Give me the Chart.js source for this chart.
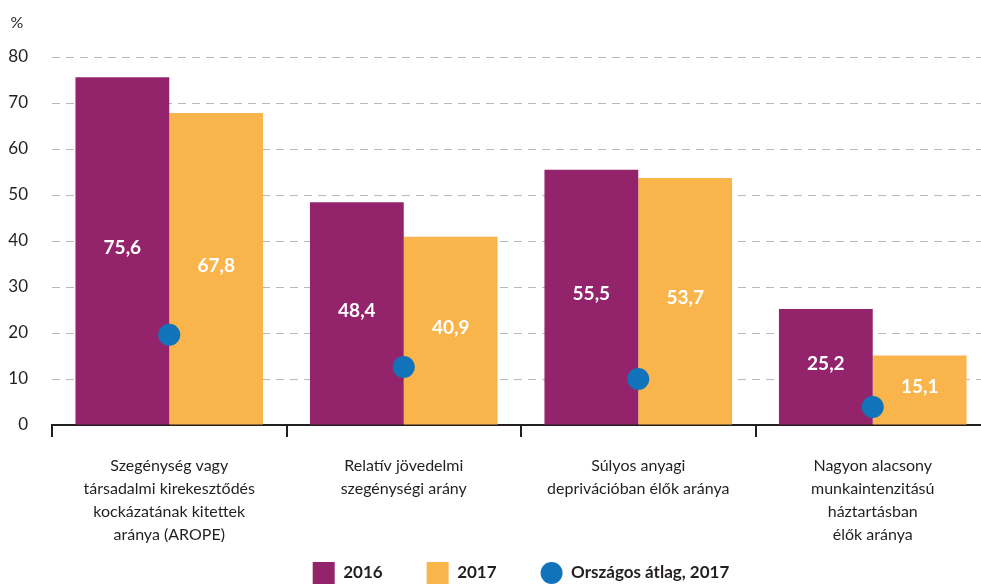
<!DOCTYPE html>
<html lang="hu">
<head>
<meta charset="utf-8">
<title>Szegénységi mutatók</title>
<script src="https://cdn.jsdelivr.net/npm/chart.js@4"></script>
<style>
  html, body { margin: 0; padding: 0; background: #fff; overflow: hidden; }
  /* the plot runs a little past the right edge, as in the original */
  #wrap { width: 981px; height: 588px; overflow: hidden; position: relative; }
  #povertyChart { display: block; position: absolute; left: 0; top: 0; }
</style>
</head>
<body>
<div id="wrap"><canvas id="povertyChart" width="990" height="588"></canvas></div>
<script>
// Chart data
const categories = [
  ['Szegénység vagy', 'társadalmi kirekesztődés', 'kockázatának kitettek', 'aránya (AROPE)'],
  ['Relatív jövedelmi', 'szegénységi arány'],
  ['Súlyos anyagi', 'deprivációban élők aránya'],
  ['Nagyon alacsony', 'munkaintenzitású', 'háztartásban', 'élők aránya']
];
const values2016 = [75.6, 48.4, 55.5, 25.2];
const values2017 = [67.8, 40.9, 53.7, 15.1];
const nationalAvg2017 = [19.6, 12.6, 10.0, 3.9];
const yTicks = [0, 10, 20, 30, 40, 50, 60, 70, 80];

const textColor = '#231f20';
const fmt = v => v.toFixed(1).replace('.', ',');

// white value labels in the middle of each bar
const barLabels = {
  id: 'barLabels',
  afterDatasetsDraw(chart) {
    const ctx = chart.ctx;
    ctx.save();
    ctx.fillStyle = '#fff';
    ctx.font = 'bold 19px Lato';
    ctx.textAlign = 'center';
    ctx.textBaseline = 'middle';
    chart.data.datasets.forEach((ds, i) => {
      if (ds.type === 'line') return;
      chart.getDatasetMeta(i).data.forEach((bar, j) => {
        ctx.fillText(fmt(ds.data[j]), bar.x, (bar.y + bar.base) / 2 - 3);
      });
    });
    ctx.restore();
  }
};

// "%" unit above the y axis
const unitLabel = {
  id: 'unitLabel',
  afterDraw(chart) {
    const ctx = chart.ctx;
    ctx.save();
    ctx.fillStyle = textColor;
    ctx.font = '16px Lato';
    ctx.textAlign = 'center';
    ctx.textBaseline = 'middle';
    ctx.fillText('%', 17, 23);
    ctx.restore();
  }
};

const ctx = document.getElementById('povertyChart').getContext('2d');
new Chart(ctx, {
  data: {
    labels: categories,
    datasets: [
      {
        type: 'bar',
        label: '2016',
        data: values2016,
        backgroundColor: '#93246c',
        order: 1
      },
      {
        type: 'bar',
        label: '2017',
        data: values2017,
        backgroundColor: '#f9b54b',
        order: 1
      },
      {
        type: 'line',
        label: 'Országos átlag, 2017',
        data: nationalAvg2017,
        showLine: false,
        pointRadius: 11,
        pointHoverRadius: 11,
        pointBackgroundColor: '#1174bb',
        pointBorderWidth: 0,
        backgroundColor: '#1174bb',
        borderColor: '#1174bb',
        order: 0
      }
    ]
  },
  options: {
    responsive: false,
    animation: false,
    layout: { autoPadding: false, padding: { top: 57, left: 0, right: 0, bottom: 0 } },
    datasets: {
      bar: { categoryPercentage: 0.8, barPercentage: 1.0 }
    },
    scales: {
      x: {
        offset: true,
        grid: {
          offset: true,
          drawOnChartArea: false,
          drawTicks: true,
          tickLength: 12,
          color: textColor,
          lineWidth: 2
        },
        border: { display: true, color: textColor, width: 2 },
        ticks: {
          color: textColor,
          font: { family: 'Lato', size: 16, lineHeight: 23 / 16 },
          padding: 17,
          maxRotation: 0,
          autoSkip: false
        },
        afterFit(scale) {
          scale.height = 93;
          scale.paddingLeft = 0;
          scale.paddingRight = 0;
          // let the 4-line labels run below the axis box (into the empty legend gap)
          scale._computeLabelArea = () => null;
        }
      },
      y: {
        min: 0,
        max: 80,
        afterBuildTicks(scale) { scale.ticks = yTicks.map(v => ({ value: v })); },
        grid: {
          drawTicks: false,
          color: '#b8b8b8',
          lineWidth: 1
        },
        border: { display: false, dash: [8, 6] },
        ticks: {
          color: textColor,
          font: { family: 'Lato', size: 17 },
          padding: 24
        },
        afterFit(scale) { scale.width = 52; }
      }
    },
    plugins: {
      legend: {
        position: 'bottom',
        fullSize: false,
        maxHeight: 70,
        labels: {
          color: textColor,
          font: { family: 'Lato', size: 17, weight: 'bold' },
          boxWidth: 22,
          boxHeight: 22,
          padding: 44,
          useBorderRadius: true,
          sort: (a, b) => a.datasetIndex - b.datasetIndex,
          generateLabels(chart) {
            const items = Chart.defaults.plugins.legend.labels.generateLabels(chart);
            items.forEach(item => {
              const ds = chart.data.datasets[item.datasetIndex];
              item.fillStyle = ds.backgroundColor;
              item.strokeStyle = ds.backgroundColor;
              item.lineWidth = 0;
              item.borderRadius = ds.type === 'line' ? 11 : 0;
            });
            return items;
          }
        }
      },
      tooltip: { enabled: false }
    }
  },
  plugins: [barLabels, unitLabel]
});
</script>
</body>
</html>
